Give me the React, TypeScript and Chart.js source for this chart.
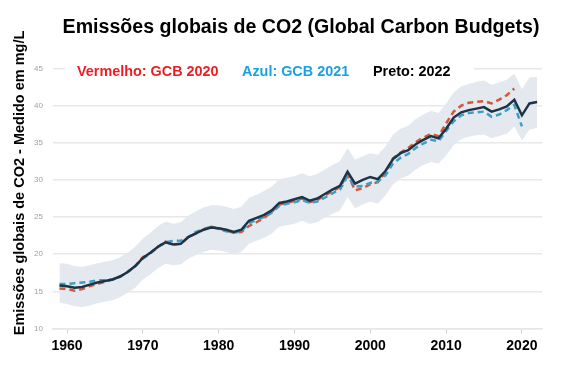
import React, { useEffect, useRef } from "react";
import { Chart, registerables } from "chart.js";

Chart.register(...registerables);

const years: number[] = [];
for (let y = 1959; y <= 2022; y++) years.push(y);

// Preto: 2022 (1959-2022)
const black = [
  15.8, 15.7, 15.5, 15.6, 15.9, 16.2, 16.4, 16.6, 17.0, 17.6,
  18.4, 19.5, 20.2, 21.0, 21.6, 21.3, 21.4, 22.3, 22.8, 23.3,
  23.6, 23.5, 23.3, 23.0, 23.3, 24.5, 24.9, 25.3, 25.9, 26.9,
  27.1, 27.4, 27.7, 27.2, 27.5, 28.1, 28.7, 29.2, 31.1, 29.5,
  30.0, 30.4, 30.1, 31.2, 32.8, 33.6, 34.0, 34.8, 35.4, 35.9,
  35.6, 36.9, 38.4, 39.1, 39.4, 39.6, 39.8, 39.2, 39.5, 39.9,
  40.8, 38.7, 40.3, 40.5,
];

// Vermelho: GCB 2020 (1959-2019)
const red = [
  15.4, 15.3, 15.1, 15.3, 15.7, 16.0, 16.3, 16.6, 17.0, 17.6,
  18.4, 19.6, 20.2, 21.0, 21.7, 21.3, 21.4, 22.3, 22.8, 23.3,
  23.7, 23.5, 23.2, 22.9, 23.0, 23.8, 24.3, 24.9, 25.7, 26.7,
  26.9, 27.2, 27.5, 27.0, 27.3, 27.9, 28.5, 29.0, 30.8, 28.6,
  28.9, 29.4, 29.7, 31.0, 32.9, 33.7, 34.3, 35.1, 35.7, 36.2,
  35.9, 37.6, 39.2, 40.0, 40.4, 40.5, 40.6, 40.3, 40.8, 41.4,
  42.3,
];

// Azul: GCB 2021 (1959-2020)
const blue = [
  16.0, 16.0, 16.1, 16.2, 16.3, 16.5, 16.5, 16.6, 17.0, 17.6,
  18.4, 19.4, 20.1, 21.0, 21.6, 21.8, 21.8, 22.3, 23.0, 23.4,
  23.7, 23.4, 23.1, 22.9, 23.1, 24.2, 24.6, 25.0, 25.6, 26.5,
  26.8, 27.0, 27.3, 26.9, 27.1, 27.6, 28.2, 28.7, 30.5, 29.1,
  29.2, 29.6, 29.8, 30.6, 32.2, 33.0, 33.5, 34.3, 34.9, 35.4,
  35.2, 36.6, 37.9, 38.7, 39.0, 39.1, 39.2, 38.5, 38.8, 39.4,
  40.1, 37.2,
];

// uncertainty band (1959-2022)
const bandUpper = [
  18.8, 18.7, 18.4, 18.3, 18.5, 18.8, 19.0, 19.2, 19.6, 20.2,
  21.0, 22.1, 22.9, 23.8, 24.4, 24.1, 24.3, 25.2, 25.8, 26.3,
  26.6, 26.6, 26.4, 26.1, 26.4, 27.6, 28.0, 28.5, 29.1, 30.1,
  30.3, 30.5, 30.9, 30.5, 30.8, 31.4, 32.0, 32.5, 34.3, 32.7,
  33.2, 33.6, 33.4, 34.5, 36.1, 36.9, 37.3, 38.2, 38.8, 39.3,
  39.0, 40.3, 41.8, 42.6, 42.9, 43.2, 43.4, 42.8, 43.1, 43.5,
  44.3, 42.2, 43.8, 43.9,
];
const bandLower = [
  13.5, 13.3, 13.0, 12.9, 13.1, 13.4, 13.6, 13.8, 14.2, 14.8,
  15.5, 16.6, 17.3, 18.1, 18.7, 18.5, 18.6, 19.4, 19.9, 20.3,
  20.6, 20.5, 20.3, 20.0, 20.3, 21.4, 21.8, 22.2, 22.8, 23.7,
  23.9, 24.1, 24.5, 24.1, 24.3, 24.9, 25.4, 25.9, 27.7, 26.2,
  26.7, 27.1, 26.8, 27.9, 29.4, 30.2, 30.6, 31.4, 32.0, 32.4,
  32.2, 33.3, 34.7, 35.5, 35.8, 36.0, 36.1, 35.6, 35.9, 36.2,
  37.2, 35.3, 36.8, 37.0,
];

const xTicks = [1960, 1970, 1980, 1990, 2000, 2010, 2020];
const yTicks = [10, 15, 20, 25, 30, 35, 40, 45];

const titleText = "Emissões globais de CO2 (Global Carbon Budgets)";
const yTitleText = "Emissões globais de CO2 - Medido em mg/L";
const legendItems = [
  { text: "Vermelho: GCB 2020", color: "#ee1d23" },
  { text: "Azul: GCB 2021", color: "#1ba1e2" },
  { text: "Preto: 2022", color: "#000000" },
];

const pts = (vals: number[]) => vals.map((v, i) => ({ x: years[i], y: v }));

const overlayPlugin = {
  id: "overlay",
  afterDraw(chart: any) {
    const ctx = chart.ctx;
    ctx.save();
    // title
    ctx.fillStyle = "#000";
    ctx.font = "bold 19.6px 'Liberation Sans', Arial, sans-serif";
    ctx.textAlign = "center";
    ctx.textBaseline = "middle";
    ctx.fillText(titleText, 301, 28);
    // legend area (white background)
    ctx.fillStyle = "#fff";
    ctx.fillRect(65, 60, 409, 22);
    ctx.font = "bold 14.4px 'Liberation Sans', Arial, sans-serif";
    ctx.textAlign = "left";
    const xs = [77, 242, 373];
    legendItems.forEach((it, i) => {
      ctx.fillStyle = it.color;
      ctx.fillText(it.text, xs[i], 72);
    });
    // y title
    ctx.translate(20, 183);
    ctx.rotate(-Math.PI / 2);
    ctx.fillStyle = "#000";
    ctx.textAlign = "center";
    ctx.font = "bold 14.5px 'Liberation Sans', Arial, sans-serif";
    ctx.fillText(yTitleText, 0, 0);
    ctx.restore();
  },
};

export default function App() {
  const ref = useRef<HTMLCanvasElement>(null);
  useEffect(() => {
    document.body.style.margin = "0";
    const chart = new Chart(ref.current!, {
      type: "line",
      data: {
        datasets: [
          {
            label: "Preto: 2022",
            data: pts(black),
            borderColor: "#1d3447",
            borderWidth: 2.5,
            pointRadius: 0,
            fill: false,
            order: 0,
            tension: 0,
          },
          {
            label: "Azul: GCB 2021",
            data: pts(blue),
            borderColor: "#3e9ec6",
            borderWidth: 2.5,
            borderDash: [6, 4],
            pointRadius: 0,
            fill: false,
            order: 1,
          },
          {
            label: "Vermelho: GCB 2020",
            data: pts(red),
            borderColor: "#d4573a",
            borderWidth: 2.5,
            borderDash: [6, 4],
            pointRadius: 0,
            fill: false,
            order: 2,
          },
          {
            label: "upper",
            data: pts(bandUpper),
            borderWidth: 0,
            borderColor: "rgba(0,0,0,0)",
            backgroundColor: "#e3e9ef",
            pointRadius: 0,
            fill: "+1",
            order: 3,
          },
          {
            label: "lower",
            data: pts(bandLower),
            borderWidth: 0,
            borderColor: "rgba(0,0,0,0)",
            pointRadius: 0,
            fill: false,
            order: 4,
          },
        ],
      },
      options: {
        animation: false,
        responsive: false,
        maintainAspectRatio: false,
        layout: { padding: { top: 68.5, right: 30, left: 0, bottom: 0 } },
        plugins: {
          legend: { display: false },
          title: { display: false },
          tooltip: { enabled: false },
        },
        scales: {
          x: {
            type: "linear",
            min: 1958.15,
            max: 2022.65,
            afterBuildTicks: (scale: any) => {
              scale.ticks = xTicks.map((v) => ({ value: v }));
            },
            afterFit: (scale: any) => {
              scale.height = 46.5;
            },
            grid: {
              drawOnChartArea: false,
              color: "#d0d0d0",
              tickLength: 5,
            },
            border: { color: "#e6e6e6", width: 1.5 },
            ticks: {
              autoSkip: false,
              maxRotation: 0,
              padding: 4,
              color: "#000",
              font: { family: "'Liberation Sans', Arial, sans-serif", size: 14, weight: "bold" },
              callback: (v: any) => String(v),
            },
          },
          y: {
            min: 10,
            max: 45,
            afterBuildTicks: (scale: any) => {
              scale.ticks = yTicks.map((v) => ({ value: v }));
            },
            afterFit: (scale: any) => {
              scale.width = 53;
            },
            grid: { color: "#e8e8e8", lineWidth: 1.5, drawTicks: false },
            border: { display: false },
            ticks: {
              padding: 10,
              color: "#a0a0a0",
              font: { family: "'Liberation Sans', Arial, sans-serif", size: 8 },
            },
          },
        },
      } as any,
      plugins: [overlayPlugin],
    });
    return () => chart.destroy();
  }, []);
  return (
    <div style={{ width: 572, height: 375, background: "#fff" }}>
      <canvas ref={ref} width={572} height={375} style={{ display: "block" }} />
    </div>
  );
}
